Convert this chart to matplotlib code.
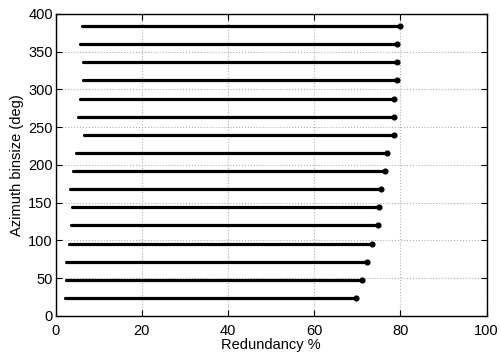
import matplotlib
matplotlib.use("Agg")
import matplotlib.pyplot as plt

# binsize rows (deg) and extent of redundancy samples in each row (%)
binsize = [24, 48, 72, 96, 120, 144, 168, 192, 216, 240, 264, 288, 312, 336, 360, 384]
red_min = [2.2, 2.3, 2.5, 3.0, 3.5, 3.7, 3.4, 4.0, 4.7, 6.5, 5.1, 5.7, 6.4, 6.3, 5.7, 6.1]
red_max = [69.7, 71.1, 72.2, 73.4, 74.7, 75.1, 75.5, 76.5, 76.9, 78.5, 78.4, 78.6, 79.1, 79.3, 79.2, 80.0]

plt.rcParams["font.family"] = ["Liberation Sans", "DejaVu Sans"]
plt.rcParams["font.size"] = 10

fig = plt.figure(figsize=(5.01, 3.56), dpi=100, facecolor="white")
ax = fig.add_axes([0.111, 0.1124, 0.8604, 0.8483])

ax.hlines(binsize, red_min, red_max, colors="black", lw=2.3,
          capstyle="round", zorder=3)
ax.plot(red_max, binsize, "o", color="black", ms=3.4, zorder=4)

ax.set_xlim(0, 100)
ax.set_ylim(0, 400)
ax.set_xticks(range(0, 101, 20))
ax.set_yticks(range(0, 401, 50))
ax.tick_params(direction="in", length=4, width=0.8, top=True, right=True,
               labelsize=10.5)
ax.tick_params(axis="x", pad=6)
ax.tick_params(axis="y", pad=2)
ax.grid(True, ls=":", color="#b0b0b0", lw=0.8, zorder=0)
for s in ax.spines.values():
    s.set_linewidth(1.0)

ax.set_xlabel("Redundancy %", fontsize=10.5, labelpad=0)
ax.set_ylabel("Azimuth binsize (deg)", fontsize=10.5, labelpad=3)

fig.savefig("out.png", dpi=100, facecolor="white")
